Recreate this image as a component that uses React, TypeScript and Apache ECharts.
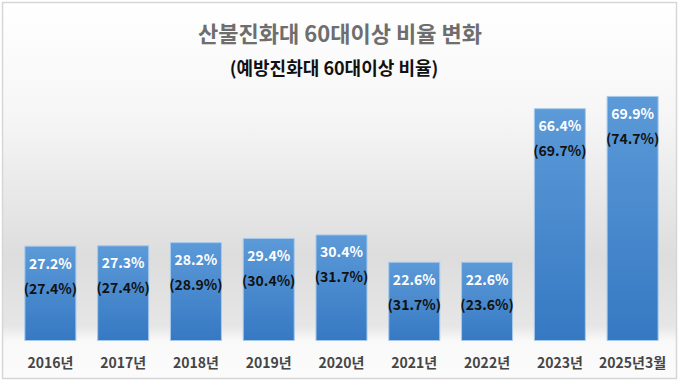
import React, { useEffect, useRef } from "react";
import * as echarts from "echarts";

const categories = ["2016년", "2017년", "2018년", "2019년", "2020년", "2021년", "2022년", "2023년", "2025년3월"];
const fireCrewRatio = [27.2, 27.3, 28.2, 29.4, 30.4, 22.6, 22.6, 66.4, 69.9];
const preventionCrewRatio = [27.4, 27.4, 28.9, 30.4, 31.7, 31.7, 23.6, 69.7, 74.7];
const titleText = "산불진화대 60대이상 비율 변화";
const subtitleText = "(예방진화대 60대이상 비율)";

const FONT = "'Noto Sans CJK KR', 'Noto Sans', sans-serif";

export default function App() {
  const ref = useRef<HTMLDivElement>(null);
  useEffect(() => {
    document.body.style.margin = "0";
    if (!ref.current) return;
    const chart = echarts.init(ref.current, null, { renderer: "svg" });
    chart.setOption({
      animation: false,
      textStyle: { fontFamily: FONT },
      graphic: [
        {
          type: "rect",
          z: -10,
          silent: true,
          shape: { x: 2.5, y: 2.5, width: 674, height: 376 },
          style: {
            fill: new echarts.graphic.LinearGradient(0, 0, 0, 1, [
              { offset: 0, color: "#ffffff" },
              { offset: 0.3, color: "#f6f6f6" },
              { offset: 0.68, color: "#dddddd" },
              { offset: 0.86, color: "#e6e6e6" },
              { offset: 0.9, color: "#f9f9f9" },
              { offset: 1, color: "#fbfbfb" },
            ]),
            stroke: "#d6d6d6",
            lineWidth: 1.5,
          },
        },
      ],
      title: [
        {
          text: titleText,
          left: "center",
          top: 16,
          textStyle: { fontFamily: FONT, fontSize: 22, fontWeight: "bold", color: "#6e6e6e" },
        },
        {
          text: subtitleText,
          left: 329,
          top: 53,
          textAlign: "center",
          textStyle: { fontFamily: FONT, fontSize: 18, fontWeight: "bold", color: "#111111" },
        },
      ],
      grid: { left: 14, right: 11, top: 95.6, bottom: 42, containLabel: false },
      xAxis: {
        type: "category",
        data: categories,
        axisLine: { show: false },
        axisTick: { show: false },
        axisLabel: { interval: 0, color: "#454545", fontSize: 14, fontWeight: "bold", fontFamily: FONT, margin: 14 },
      },
      yAxis: { type: "value", min: 0, max: 70, show: false, splitLine: { show: false } },
      series: [
        {
          type: "bar",
          data: fireCrewRatio,
          barWidth: 52,
          itemStyle: {
            color: new echarts.graphic.LinearGradient(0, 0, 0, 1, [
              { offset: 0, color: "#5c9ad8" },
              { offset: 1, color: "#3679c3" },
            ]),
            borderColor: "#a6c9ec",
            borderWidth: 1,
          },
          label: {
            show: true,
            position: "insideTop",
            distance: 6,
            formatter: (p: any) => `{a|${p.value.toFixed(1)}%}\n{b|(${preventionCrewRatio[p.dataIndex].toFixed(1)}%)}`,
            rich: {
              a: { color: "#ffffff", fontSize: 14, fontWeight: "bold", lineHeight: 22, fontFamily: FONT, align: "center" },
              b: { color: "#111111", fontSize: 14, fontWeight: "bold", lineHeight: 28, fontFamily: FONT, align: "center" },
            },
          },
        },
      ],
    });
    return () => chart.dispose();
  }, []);
  return <div ref={ref} style={{ width: 680, height: 383 }} />;
}
